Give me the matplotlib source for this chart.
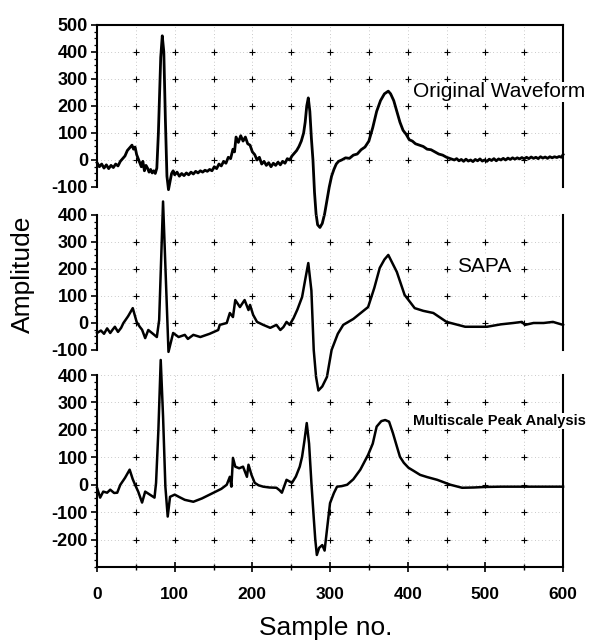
import matplotlib
matplotlib.use("Agg")
import matplotlib.pyplot as plt
from matplotlib.ticker import MultipleLocator
import numpy as np

plt.rcParams['font.family'] = ['Liberation Sans', 'DejaVu Sans']
plt.rcParams['axes.unicode_minus'] = False

# --- original (noisy) ECG beat ---
orig_x = [0, 3, 6, 9, 12, 15, 18, 21, 24, 27,
          30, 33, 36, 39, 42, 45, 47, 49, 51, 53,
          55, 57, 59, 61, 63, 65, 67, 69, 71, 73,
          75, 77, 79, 82, 84, 86, 88, 90, 92, 94,
          96, 98, 100, 103, 106, 109, 112, 115, 118, 121,
          124, 127, 130, 133, 136, 139, 142, 145, 148, 151,
          154, 157, 160, 163, 166, 169, 172, 175, 177, 179,
          182, 185, 188, 191, 194, 197, 200, 203, 206, 209,
          212, 215, 218, 221, 224, 227, 230, 233, 236, 239,
          242, 245, 248, 251, 254, 257, 260, 263, 266, 268,
          270, 272, 274, 276, 278, 280, 282, 284, 287, 290,
          293, 296, 299, 302, 305, 308, 311, 315, 320, 325,
          330, 335, 340, 345, 350, 355, 360, 365, 370, 375,
          378, 382, 386, 390, 394, 398, 402, 406, 410, 415,
          420, 425, 430, 435, 440, 445, 450, 455, 460, 463,
          466, 469, 472, 475, 478, 481, 484, 487, 490, 493,
          496, 499, 502, 505, 508, 511, 514, 517, 520, 523,
          526, 529, 532, 535, 538, 541, 544, 547, 550, 553,
          556, 559, 562, 565, 568, 571, 574, 577, 580, 583,
          586, 589, 592, 595, 598, 600]
orig_y = [-10, -25, -15, -30, -18, -32, -20, -28, -15, -22,
          -5, 5, 15, 35, 45, 55, 40, 48, 20, 5,
          -10, -25, -5, -40, -20, -30, -45, -35, -48, -40,
          -50, -30, 100, 380, 460, 400, 150, -60, -110, -80,
          -50, -40, -55, -45, -60, -50, -58, -48, -55, -45,
          -52, -42, -48, -40, -45, -38, -42, -35, -40, -25,
          -32, -15, -22, -5, -12, 10, 5, 40, 30, 85,
          65, 90, 70, 85, 60, 55, 30, 20, 0, 10,
          -15, -5, -20, -10, -25, -12, -20, -8, -18, -5,
          -12, 5, 0, 15, 25, 35, 50, 70, 100, 140,
          200, 230, 180, 80, 0, -120, -200, -240, -250, -235,
          -200, -150, -100, -60, -35, -15, -5, 0, 8, 6,
          18, 22, 38, 48, 70, 120, 180, 220, 245, 255,
          245, 220, 180, 140, 110, 95, 75, 70, 60, 55,
          50, 40, 38, 30, 22, 18, 10, 5, 0, 5,
          -3, 2, -5, 3, -4, 0, -6, 2, -3, 4,
          -4, 0, -5, 3, -2, 5, -3, 4, 0, 6,
          0, 7, 2, 8, 3, 8, 4, 9, 4, 10,
          5, 11, 6, 10, 5, 12, 7, 11, 6, 12,
          8, 12, 9, 13, 10, 20]

# --- SAPA approximation ---
sapa_x = [0, 5, 9, 13, 17, 20, 23, 27, 31, 34,
          40, 46, 51, 55, 58, 62, 66, 72, 77, 80,
          85, 92, 98, 105, 109, 113, 117, 124, 133, 145,
          156, 158, 167, 171, 175, 178, 184, 190, 195, 197,
          201, 206, 214, 223, 231, 236, 240, 244, 248, 253,
          258, 264, 268, 272, 276, 279, 282, 285, 290, 296,
          302, 310, 317, 330, 349, 357, 364, 370, 375, 386,
          396, 409, 420, 433, 450, 462, 474, 490, 502, 520,
          536, 547, 551, 562, 575, 587, 600]
sapa_y = [-37, -28, -40, -20, -37, -25, -14, -33, -18, 0,
          25, 55, 4, -14, -25, -56, -26, -40, -52, 11,
          450, -107, -37, -52, -48, -44, -59, -44, -52, -40,
          -26, -7, 0, 37, 22, 85, 59, 85, 48, 67,
          30, 4, -7, -18, -7, -26, -15, 4, -7, 18,
          50, 96, 160, 222, 120, -100, -200, -250, -235, -200,
          -100, -40, -7, 15, 59, 130, 204, 235, 252, 189,
          104, 55, 45, 37, 4, -5, -14, -14, -14, -5,
          0, 4, -7, 0, 0, 4, -7]

# --- multiscale peak analysis ---
msp_x = [0, 4, 8, 13, 17, 22, 26, 30, 36, 42,
         46, 49, 53, 58, 62, 68, 74, 76, 79, 82,
         85, 88, 91, 94, 100, 106, 113, 124, 135, 150,
         160, 167, 171, 173, 175, 178, 183, 188, 193, 195,
         199, 203, 208, 214, 222, 231, 235, 238, 244, 251,
         256, 261, 264, 267, 270, 273, 276, 279, 281, 283,
         286, 290, 293, 296, 300, 305, 309, 315, 322, 330,
         339, 349, 355, 360, 366, 371, 376, 381, 386, 390,
         395, 401, 408, 416, 425, 438, 455, 470, 485, 500,
         520, 540, 560, 580, 600]
msp_y = [-11, -47, -25, -29, -18, -30, -29, 0, 25, 55,
         20, 0, -25, -65, -25, -36, -47, 7, 200, 455,
         250, -7, -116, -44, -36, -45, -55, -62, -50, -29,
         -15, 0, 29, -7, 98, 66, 60, 66, 29, 73,
         35, 7, -2, -7, -10, -11, -20, -29, 18, 7,
         30, 66, 102, 160, 225, 150, 7, -120, -200, -256,
         -230, -220, -240, -165, -67, -30, -7, -5, 0, 20,
         55, 109, 150, 212, 232, 236, 230, 188, 140, 102,
         80, 62, 50, 36, 28, 18, 0, -11, -10, -8,
         -7, -7, -7, -7, -7]

fig = plt.figure(figsize=(5.92, 6.41), dpi=100)

panels = [
    # rect, x, y, ylim, labelled ticks, caption, caption pos, caption style, spines
    ([0.1639, 0.7083, 0.7872, 0.2527], orig_x, orig_y, (-100, 500),
     range(-100, 501, 100), 'Original Waveform', (407, 252),
     dict(fontsize=15), ('left', 'right', 'top')),
    ([0.1639, 0.4540, 0.7872, 0.2106], sapa_x, sapa_y, (-100, 400),
     range(-100, 401, 100), 'SAPA', (463, 211),
     dict(fontsize=15), ('left', 'right')),
    ([0.1639, 0.1154, 0.7872, 0.2995], msp_x, msp_y, (-300, 400),
     range(-200, 401, 100), 'Multiscale Peak Analysis', (407, 232),
     dict(fontsize=10.5, fontweight='bold'), ('left', 'right', 'bottom')),
]

for i, (rect, xs, ys, ylim, yt, cap, cap_xy, cap_kw, spines) in enumerate(panels):
    ax = fig.add_axes(rect)
    ax.set_xlim(0, 600)
    ax.set_ylim(*ylim)
    for side in ('left', 'right', 'top', 'bottom'):
        ax.spines[side].set_visible(side in spines)
        ax.spines[side].set_linewidth(1.5)

    # sparse dotted grid with small crosses at the intersections
    ax.xaxis.set_major_locator(MultipleLocator(100))
    ax.xaxis.set_minor_locator(MultipleLocator(50))
    ax.yaxis.set_minor_locator(MultipleLocator(25))
    ax.grid(True, axis='x', which='both', color='0.6', lw=0.5, ls=(0, (1, 4)))
    ax.grid(True, axis='y', which='major', color='0.6', lw=0.5, ls=(0, (1, 4)))
    gx, gy = np.meshgrid(np.arange(50, 600, 50), np.arange(ylim[0] + 100, ylim[1], 100))
    ax.plot(gx.ravel(), gy.ravel(), '+', color='k', ms=4, mew=0.8, ls='none')

    ax.plot(xs, ys, color='black', lw=2.0 if i == 0 else 1.8, clip_on=False, zorder=4)

    ax.set_yticks(list(yt))
    ax.set_yticklabels([str(v) for v in yt], fontsize=13, fontweight='bold')
    ax.tick_params(axis='y', which='major', direction='out', length=4, width=1.2, pad=2.5)
    ax.tick_params(axis='y', which='minor', direction='out', length=2.5, width=0.9)

    if i < 2:
        ax.tick_params(axis='x', which='both', bottom=False, labelbottom=False)
    else:
        ax.set_xticks(range(0, 601, 100))
        ax.set_xticklabels([str(v) for v in range(0, 601, 100)],
                           fontsize=12.5, fontweight='bold')
        ax.tick_params(axis='x', which='major', direction='inout', length=7, width=1.2, pad=11)
        ax.tick_params(axis='x', which='minor', direction='inout', length=5, width=1.0)

    ax.text(cap_xy[0], cap_xy[1], cap, ha='left', va='center', zorder=5,
            bbox=dict(facecolor='white', edgecolor='none', pad=0.5), **cap_kw)
    ax.patch.set_alpha(0)

fig.text(23 / 592, 1 - 274 / 641, 'Amplitude', rotation=90,
         ha='center', va='center', fontsize=19)
fig.text(326 / 592, 1 - 628 / 641, 'Sample no.', ha='center', va='center', fontsize=19)

fig.savefig('out.png', dpi=100)
